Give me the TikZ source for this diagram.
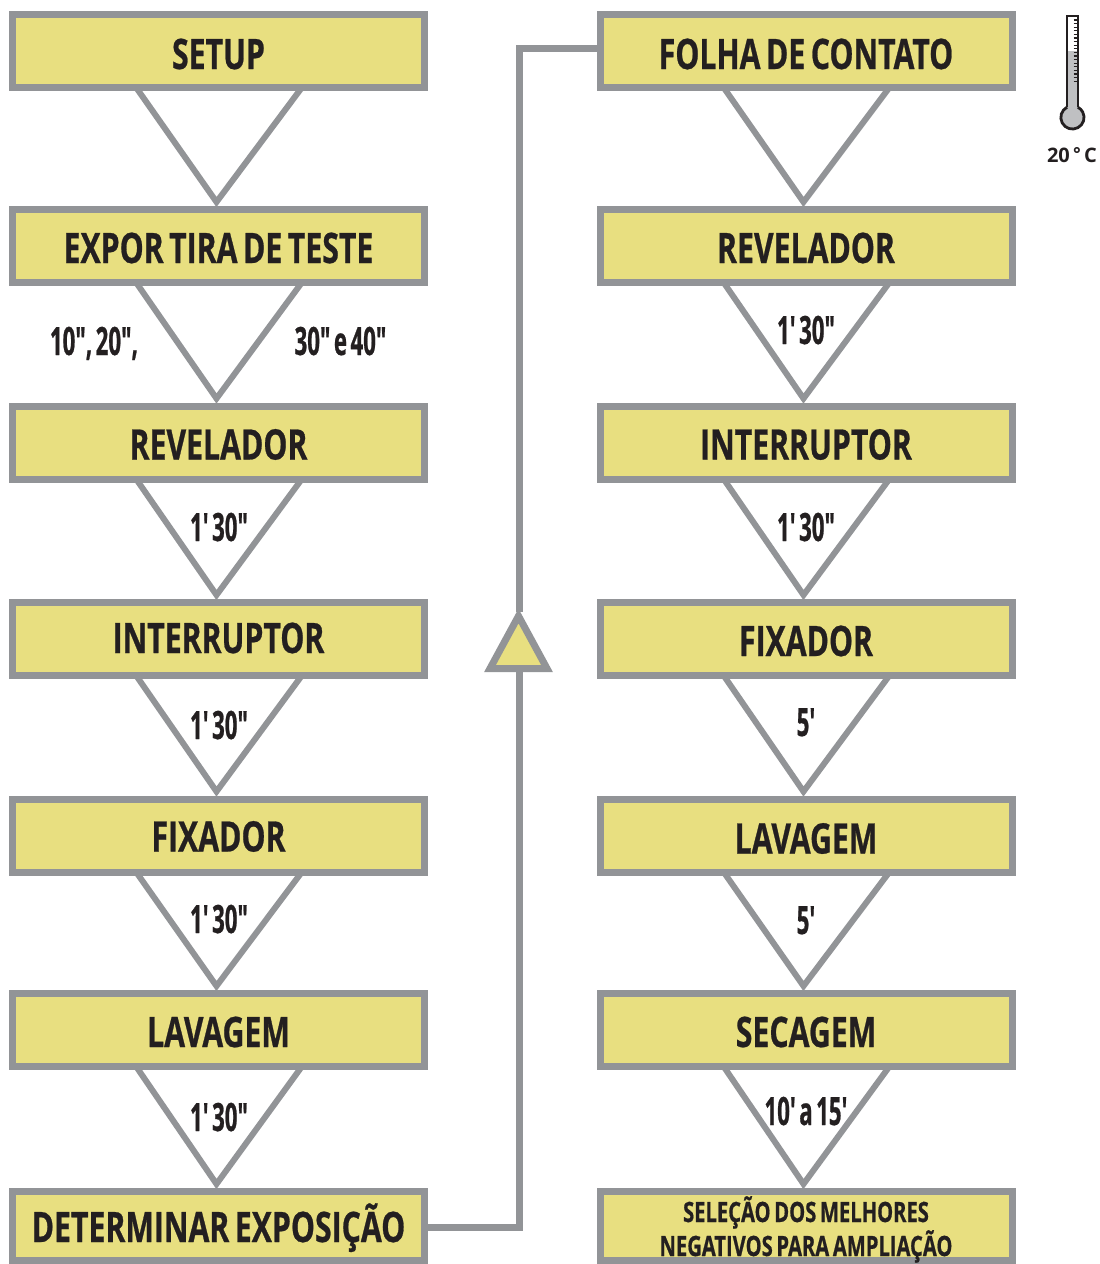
\documentclass[tikz,border=0pt]{standalone}
\usepackage{fontspec}
\newfontfamily\condbold[FakeStretch=0.72,FakeBold=0.6,WordSpace=0.7]{Open Sans Bold}
\newfontfamily\timebold[FakeStretch=0.57,FakeBold=0.6,WordSpace=0.6]{Open Sans Bold}
\newfontfamily\plainbold{Open Sans Bold}
\usetikzlibrary{calc,backgrounds}
\definecolor{grayline}{HTML}{929497}
\definecolor{yellowfill}{HTML}{E8DF80}
\definecolor{ink}{HTML}{231F20}
\definecolor{mercury}{HTML}{BFC0C2}
\tikzset{
  x=1pt,y=-1pt,
  stepbox/.style={draw=grayline,fill=yellowfill,line width=7pt,minimum width=412pt,minimum height=73pt,inner sep=0pt,
    text=ink,font=\condbold\fontsize{42}{42}\selectfont,text height=34pt,text depth=0pt},
  lastbox/.style={stepbox,minimum height=69pt,text height=32pt},
  smallline/.style={anchor=base,inner sep=0pt,text=ink,font=\condbold\fontsize{28}{28}\selectfont},
  vee/.style={draw=grayline,line width=6pt,miter limit=10},
  link/.style={draw=grayline,line width=7pt},
  timelabel/.style={anchor=base,inner sep=0pt,text=ink,font=\timebold\fontsize{39}{39}\selectfont},
}
\newcommand{\veeL}[2]{\draw[vee] ($(#1.south)+(-82,-3)$) -- ($(#2.north)+(-2,-4)$) -- ($(#1.south)+(83,-3)$);}
\newcommand{\veeR}[2]{\draw[vee] ($(#1.south)+(-82,-3)$) -- ($(#2.north)+(-2.5,-4)$) -- ($(#1.south)+(83,-3)$);}
\begin{document}
\begin{tikzpicture}
\useasboundingbox (0,0) rectangle (1100,1264);
% left column
\node[stepbox,text height=36pt] (l1) at (218.5,51) {SETUP};
\node[stepbox] (l2) at (218.5,246) {EXPOR TIRA DE TESTE};
\node[stepbox] (l3) at (218.5,442.5) {REVELADOR};
\node[stepbox,text height=28pt] (l4) at (218.5,639) {INTERRUPTOR};
\node[stepbox,text height=32pt] (l5) at (218.5,835.5) {FIXADOR};
\node[stepbox] (l6) at (218.5,1030) {LAVAGEM};
\node[lastbox] (l7) at (218.5,1226) {DETERMINAR EXPOSIÇÃO};
% right column
\node[stepbox,text height=36pt] (r1) at (806,51) {FOLHA DE CONTATO};
\node[stepbox] (r2) at (806,246) {REVELADOR};
\node[stepbox] (r3) at (806,442.5) {INTERRUPTOR};
\node[stepbox] (r4) at (806,639) {FIXADOR};
\node[stepbox,text height=36pt] (r5) at (806,835.5) {LAVAGEM};
\node[stepbox] (r6) at (806,1030) {SECAGEM};
\node[lastbox,text height=0pt] (r7) at (806,1226) {};
\node[smallline] (r7a) at (806,1222) {SELEÇÃO DOS MELHORES};
\node[smallline] (r7b) at (806,1256) {NEGATIVOS PARA AMPLIAÇÃO};
% return triangle
\coordinate (riserbottom) at (519,668);
\coordinate (risertop) at (519,612);
\draw[draw=grayline,fill=yellowfill,line width=7pt,miter limit=10] (490,668.5) -- (518.5,616) -- (547,668.5) -- cycle;
\draw[link] (l7.east |- 0,1227) -| (riserbottom);
\draw[link] (risertop) |- (r1.west |- 0,48);
% vees
\begin{scope}[on background layer]
\veeL{l1}{l2}\veeL{l2}{l3}\veeL{l3}{l4}\veeL{l4}{l5}\veeL{l5}{l6}\veeL{l6}{l7}
\veeR{r1}{r2}\veeR{r2}{r3}\veeR{r3}{r4}\veeR{r4}{r5}\veeR{r5}{r6}\veeR{r6}{r7}
\end{scope}
% time labels
\node[timelabel] (ta) at (94,355) {10", 20",};
\node[timelabel] (tb) at (340.5,355) {30" e 40"};
\node[timelabel] (t3) at (219,541) {1' 30"};
\node[timelabel] (t4) at (219,739) {1' 30"};
\node[timelabel] (t5) at (219,933) {1' 30"};
\node[timelabel] (t6) at (219,1131) {1' 30"};
\node[timelabel] (u2) at (806,344) {1' 30"};
\node[timelabel] (u3) at (806,541) {1' 30"};
\node[timelabel] (u4) at (806,736) {5'};
\node[timelabel] (u5) at (806,934) {5'};
\node[timelabel] (u6) at (806,1125) {10' a 15'};
% thermometer
\fill[mercury] (1067,51) rectangle (1078,110);
\fill[mercury] (1072.5,117.5) circle (11);
\foreach \yy in {20,23.6,...,84}{\draw[ink,line width=1.1pt] (1073.5,\yy) -- (1078,\yy);}
\draw[ink,line width=2.8pt] (1067,107) -- (1067,16) -- (1078,16) -- (1078,107);
\draw[ink,line width=2.8pt] (1067,107.2) arc[start angle=242,delta angle=-304,radius=11.6];
\node[anchor=base,inner sep=0pt,text=ink,font=\plainbold\fontsize{20}{20}\selectfont] (temp) at (1072,162) {20\,\raisebox{1.5pt}{\fontsize{18}{18}\selectfont °}\,C};
\end{tikzpicture}
\end{document}
